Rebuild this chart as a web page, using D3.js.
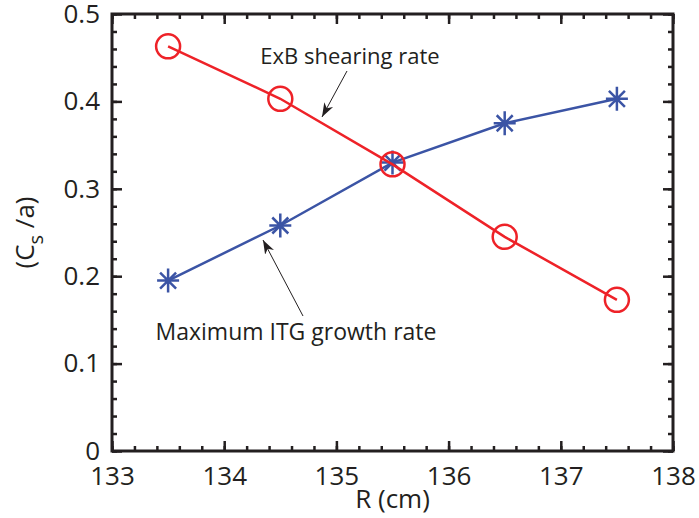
<!DOCTYPE html>
<html>
<head>
<meta charset="utf-8">
<script src="https://cdn.jsdelivr.net/npm/d3@7"></script>
<style>
  body { margin: 0; background: #fff; }
  text { font-family: "Open Sans", sans-serif; fill: #231f20; }
</style>
</head>
<body>
<div id="chart"></div>
<script>
// values
const radius = [133.5, 134.5, 135.5, 136.5, 137.5];
const shearRate = [0.463, 0.403, 0.328, 0.245, 0.173];
const itgGrowth = [0.195, 0.258, 0.330, 0.375, 0.403];
const xTicks = [133, 134, 135, 136, 137, 138];
const yTicks = [0, 0.1, 0.2, 0.3, 0.4, 0.5];

const width = 699, height = 518;
const margin = {top: 14, right: 26, bottom: 67, left: 112};

const svg = d3.select("#chart")
  .append("svg")
  .attr("width", width)
  .attr("height", height);

const xScale = d3.scaleLinear()
  .domain([133, 138])
  .range([margin.left, width - margin.right]);

const yScale = d3.scaleLinear()
  .domain([0, 0.5])
  .range([height - margin.bottom, margin.top]);

const xMinor = d3.range(133, 138.01, 0.2).map(v => +v.toFixed(1));
const yMinor = d3.range(0, 0.501, 0.02).map(v => +v.toFixed(2));

const axisStyle = g => {
  g.select(".domain").remove();
  g.selectAll("line").attr("stroke", "#231f20").attr("stroke-width", 2.5);
  g.selectAll("text").attr("font-size", "26px");
};

// bottom
svg.append("g")
  .attr("transform", `translate(0,${height - margin.bottom})`)
  .call(d3.axisBottom(xScale).tickValues(xMinor).tickFormat("").tickSize(-5))
  .call(axisStyle);
svg.append("g")
  .attr("transform", `translate(0,${height - margin.bottom})`)
  .call(d3.axisBottom(xScale).tickValues(xTicks).tickFormat(d3.format("d")).tickSize(-10).tickPadding(16))
  .call(axisStyle);
// top
svg.append("g")
  .attr("transform", `translate(0,${margin.top})`)
  .call(d3.axisTop(xScale).tickValues(xMinor).tickFormat("").tickSize(-5))
  .call(axisStyle);
svg.append("g")
  .attr("transform", `translate(0,${margin.top})`)
  .call(d3.axisTop(xScale).tickValues(xTicks).tickFormat("").tickSize(-10))
  .call(axisStyle);
// left
svg.append("g")
  .attr("transform", `translate(${margin.left},0)`)
  .call(d3.axisLeft(yScale).tickValues(yMinor).tickFormat("").tickSize(-5))
  .call(axisStyle);
svg.append("g")
  .attr("transform", `translate(${margin.left},0)`)
  .call(d3.axisLeft(yScale).tickValues(yTicks).tickFormat(d => d === 0 ? "0" : d3.format(".1f")(d)).tickSize(-10).tickPadding(12))
  .call(axisStyle);
// right
svg.append("g")
  .attr("transform", `translate(${width - margin.right},0)`)
  .call(d3.axisRight(yScale).tickValues(yMinor).tickFormat("").tickSize(-5))
  .call(axisStyle);
svg.append("g")
  .attr("transform", `translate(${width - margin.right},0)`)
  .call(d3.axisRight(yScale).tickValues(yTicks).tickFormat("").tickSize(-10))
  .call(axisStyle);

// frame
svg.append("rect")
  .attr("x", margin.left)
  .attr("y", margin.top)
  .attr("width", width - margin.left - margin.right)
  .attr("height", height - margin.top - margin.bottom)
  .attr("fill", "none")
  .attr("stroke", "#231f20")
  .attr("stroke-width", 3);

// axis labels
svg.append("text")
  .attr("x", (margin.left + width - margin.right) / 2)
  .attr("y", 508)
  .attr("text-anchor", "middle")
  .attr("font-size", "26px")
  .text("R (cm)");

const yLab = svg.append("text")
  .attr("transform", `translate(34,${(margin.top + height - margin.bottom) / 2}) rotate(-90)`)
  .attr("text-anchor", "middle")
  .attr("font-size", "26px");
yLab.append("tspan").text("(C");
yLab.append("tspan").attr("font-size", "20px").attr("dy", 9).text("s");
yLab.append("tspan").attr("dy", -9).text(" /a)");

const line = d3.line()
  .x(d => xScale(d[0]))
  .y(d => yScale(d[1]));

const blue = "#3b54a5", red = "#ee2228";

// ITG growth (blue, asterisks)
const itgPts = radius.map((r, i) => [r, itgGrowth[i]]);
svg.append("path")
  .datum(itgPts)
  .attr("d", line)
  .attr("fill", "none")
  .attr("stroke", blue)
  .attr("stroke-width", 2.5);

const star = "M-11,0L11,0M0,-12L0,12M-8,-8L8,8M-8,8L8,-8";
svg.selectAll(".star")
  .data(itgPts)
  .enter()
  .append("path")
  .attr("class", "star")
  .attr("transform", d => `translate(${xScale(d[0])},${yScale(d[1])})`)
  .attr("d", star)
  .attr("stroke", blue)
  .attr("stroke-width", 2.5);

// ExB shearing (red, circles)
const shearPts = radius.map((r, i) => [r, shearRate[i]]);
svg.append("path")
  .datum(shearPts)
  .attr("d", line)
  .attr("fill", "none")
  .attr("stroke", red)
  .attr("stroke-width", 2.5);

svg.selectAll(".circ")
  .data(shearPts)
  .enter()
  .append("circle")
  .attr("class", "circ")
  .attr("cx", d => xScale(d[0]))
  .attr("cy", d => yScale(d[1]))
  .attr("r", 12)
  .attr("fill", "none")
  .attr("stroke", red)
  .attr("stroke-width", 2.5);

// annotations
svg.append("defs").append("marker")
  .attr("id", "head")
  .attr("viewBox", "0 -6 14 12")
  .attr("refX", 14)
  .attr("refY", 0)
  .attr("markerWidth", 14)
  .attr("markerHeight", 12)
  .attr("markerUnits", "userSpaceOnUse")
  .attr("orient", "auto")
  .append("path")
  .attr("d", "M0,-5L14,0L0,5L4,0Z")
  .attr("fill", "#231f20");

svg.append("text")
  .attr("x", 350)
  .attr("y", 64)
  .attr("text-anchor", "middle")
  .attr("font-size", "22px")
  .text("ExB shearing rate");
svg.append("line")
  .attr("x1", 347).attr("y1", 71)
  .attr("x2", 322).attr("y2", 117)
  .attr("stroke", "#231f20")
  .attr("stroke-width", 1)
  .attr("marker-end", "url(#head)");

svg.append("text")
  .attr("x", 296)
  .attr("y", 340)
  .attr("text-anchor", "middle")
  .attr("font-size", "23px")
  .text("Maximum ITG growth rate");
svg.append("line")
  .attr("x1", 303).attr("y1", 316)
  .attr("x2", 263).attr("y2", 240)
  .attr("stroke", "#231f20")
  .attr("stroke-width", 1)
  .attr("marker-end", "url(#head)");
</script>
</body>
</html>
